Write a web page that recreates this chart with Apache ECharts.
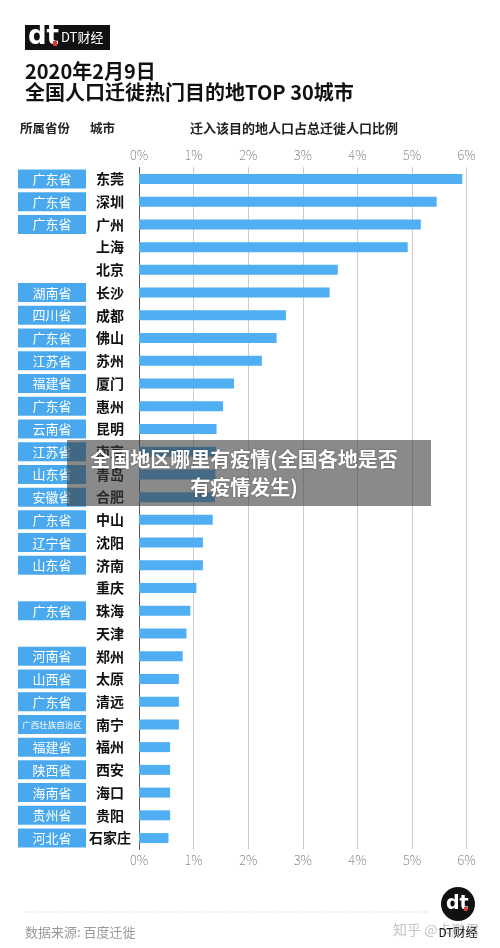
<!DOCTYPE html>
<html><head><meta charset="utf-8">
<script src="https://cdn.jsdelivr.net/npm/echarts@6/dist/echarts.min.js"></script>
<style>html,body{margin:0;padding:0;background:#fff}#c{width:500px;height:948px}</style>
</head><body><div id="c"></div>
<script>
const cities = ['东莞','深圳','广州','上海','北京','长沙','成都','佛山','苏州','厦门','惠州','昆明','南京','青岛','合肥','中山','沈阳','济南','重庆','珠海','天津','郑州','太原','清远','南宁','福州','西安','海口','贵阳','石家庄'];
const provinces = ['广东省','广东省','广东省','','','湖南省','四川省','广东省','江苏省','福建省','广东省','云南省','江苏省','山东省','安徽省','广东省','辽宁省','山东省','','广东省','','河南省','山西省','广东省','广西壮族自治区','福建省','陕西省','海南省','贵州省','河北省'];
const values = [5.92,5.45,5.16,4.92,3.64,3.49,2.69,2.52,2.25,1.74,1.54,1.42,1.41,1.40,1.39,1.35,1.17,1.17,1.05,0.94,0.87,0.80,0.73,0.73,0.73,0.57,0.57,0.57,0.57,0.54];
const tickMin = 0, tickMax = 6, tickStep = 1;

const FF = '"Noto Sans CJK SC","Noto Sans",sans-serif';
const chart = echarts.init(document.getElementById('c'), null, {renderer:'canvas'});
const xAxisBase = {
  type:'value', min:tickMin, max:tickMax, interval:tickStep,
  axisLine:{show:false}, axisTick:{show:false},
  axisLabel:{formatter:'{value}%', color:'#666', fontSize:13, fontFamily:FF, fontWeight:'lighter'}
};
chart.setOption({
  animation:false,
  backgroundColor:'#fff',
  grid:{left:139, right:33.3, top:167.6, bottom:98.6, containLabel:false},
  xAxis:[
    Object.assign({}, xAxisBase, {position:'top', axisLabel:Object.assign({}, xAxisBase.axisLabel, {margin:6}),
      splitLine:{show:true, lineStyle:{type:'dotted', color:'#9a9a9a', width:1}}}),
    Object.assign({}, xAxisBase, {position:'bottom', axisLabel:Object.assign({}, xAxisBase.axisLabel, {margin:4}),
      splitLine:{show:false}})
  ],
  yAxis:[
    {type:'category', data:cities, inverse:true, position:'left',
     axisLine:{show:true, lineStyle:{color:'#555', width:1}}, axisTick:{show:false},
     axisLabel:{align:'center', margin:29, fontSize:14, fontWeight:'bold', color:'#111', fontFamily:FF}},
    {type:'category', data:provinces, inverse:true, position:'left',
     axisLine:{show:false}, axisTick:{show:false},
     axisLabel:{align:'center', margin:87, fontFamily:FF,
       formatter:function(v){ if(!v) return ''; return v.length>4 ? '{s|'+v+'}' : '{p|'+v+'}'; },
       rich:{
         p:{backgroundColor:'#4aa9ee', color:'#fff', width:68, height:19, lineHeight:19, align:'center', fontSize:13, fontFamily:FF},
         s:{backgroundColor:'#4aa9ee', color:'#fff', width:68, height:19, lineHeight:19, align:'center', fontSize:8.5, fontFamily:FF}
       }}}
  ],
  series:[{type:'bar', data:values, xAxisIndex:0, yAxisIndex:0, barWidth:10,
    itemStyle:{color:'#50aef3'}, silent:true}],
  graphic:[
    {type:'rect', shape:{x:25,y:25,width:85,height:25}, style:{fill:'#111'}},
    {type:'text', x:28, y:37.5, style:{text:'dt', fill:'#fff', font:'bold 26px "DejaVu Sans"', textVerticalAlign:'middle'}},
    {type:'rect', shape:{x:53,y:41,width:4,height:5}, style:{fill:'#e0392f'}},
    {type:'text', x:61, y:37.5, style:{text:'DT财经', fill:'#fff', font:'13px '+FF, textVerticalAlign:'middle'}},
    {type:'text', x:25, y:71, style:{text:'2020年2月9日', fill:'#111', font:'600 20px '+FF, textVerticalAlign:'middle'}},
    {type:'text', x:25, y:92, style:{text:'全国人口迁徙热门目的地TOP 30城市', fill:'#111', font:'600 20px '+FF, textVerticalAlign:'middle'}},
    {type:'text', x:20, y:128, style:{text:'所属省份', fill:'#222', font:'bold 12.5px '+FF, textVerticalAlign:'middle'}},
    {type:'text', x:90, y:128, style:{text:'城市', fill:'#222', font:'bold 12.5px '+FF, textVerticalAlign:'middle'}},
    {type:'text', x:190, y:128, style:{text:'迁入该目的地人口占总迁徙人口比例', fill:'#222', font:'bold 13px '+FF, textVerticalAlign:'middle'}},
    {type:'rect', z:100, shape:{x:67,y:440,width:364,height:66}, style:{fill:'rgba(60,60,60,0.6)'}},
    {type:'text', z:101, x:244, y:459, style:{text:'全国地区哪里有疫情(全国各地是否', fill:'#fff', font:'bold 20px '+FF, textAlign:'center', textVerticalAlign:'middle', textShadowColor:'rgba(0,0,0,0.4)', textShadowBlur:2}},
    {type:'text', z:101, x:244, y:487, style:{text:'有疫情发生)', fill:'#fff', font:'bold 20px '+FF, textAlign:'center', textVerticalAlign:'middle', textShadowColor:'rgba(0,0,0,0.4)', textShadowBlur:2}},
    {type:'line', shape:{x1:25,y1:912,x2:430,y2:912}, style:{stroke:'#bbb', lineWidth:1, lineDash:[1,2]}},
    {type:'text', x:25, y:932, style:{text:'数据来源: 百度迁徙', fill:'#999', font:'13px '+FF, textVerticalAlign:'middle'}},
    {type:'text', x:393, y:930, style:{text:'知乎 @卡鹏君', fill:'#c4c4c4', font:'14px '+FF, textVerticalAlign:'middle'}},
    {type:'circle', shape:{cx:458,cy:904,r:17}, style:{fill:'#111'}},
    {type:'text', x:446, y:904, style:{text:'dt', fill:'#fff', font:'bold 19px "DejaVu Sans"', textVerticalAlign:'middle'}},
    {type:'rect', shape:{x:464,y:907,width:3.5,height:4}, style:{fill:'#e0392f'}},
    {type:'text', x:458, y:932, style:{text:'DT财经', fill:'#111', font:'12px '+FF, textAlign:'center', textVerticalAlign:'middle'}}
  ]
});
</script></body></html>
